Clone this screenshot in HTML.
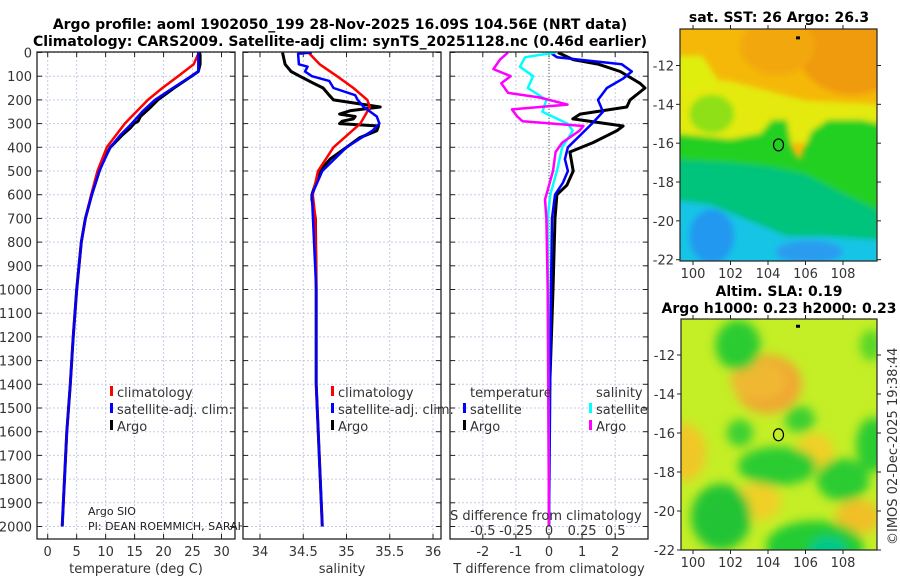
<!DOCTYPE html>
<html><head><meta charset="utf-8">
<style>
html,body{margin:0;padding:0;background:#fff;}
svg{display:block;font-family:"DejaVu Sans","Liberation Sans",sans-serif;}
.t{font-size:13px;fill:#333;}
.b{font-size:14px;font-weight:bold;fill:#000;}
</style></head>
<body>
<svg id="fig" width="900" height="580" viewBox="0 0 900 580" xmlns="http://www.w3.org/2000/svg">
<defs>
<filter id="bl1" x="-10%" y="-10%" width="120%" height="120%"><feGaussianBlur stdDeviation="3"/></filter>
<filter id="bl2" x="-10%" y="-10%" width="120%" height="120%"><feGaussianBlur stdDeviation="5"/></filter>
<clipPath id="cp1"><rect x="37" y="52" width="198" height="487"/></clipPath>
<clipPath id="cp2"><rect x="243" y="52" width="198" height="487"/></clipPath>
<clipPath id="cp3"><rect x="450" y="52" width="198" height="487"/></clipPath>
<clipPath id="cm1"><rect x="680" y="29" width="197" height="232"/></clipPath>
<clipPath id="cm2"><rect x="681" y="319" width="196" height="231"/></clipPath>
<clipPath id="cpText"><rect x="0" y="0" width="242" height="580"/></clipPath>
</defs>
<text class="b" x="340" y="29" text-anchor="middle">Argo profile: aoml 1902050_199 28-Nov-2025 16.09S 104.56E (NRT data)</text>
<text class="b" x="340" y="46" text-anchor="middle">Climatology: CARS2009. Satellite-adj clim: synTS_20251128.nc (0.46d earlier)</text>
<text class="b" x="779" y="22" text-anchor="middle">sat. SST: 26 Argo: 26.3</text>
<text class="b" x="779" y="296" text-anchor="middle">Altim. SLA: 0.19</text>
<text class="b" x="779" y="313" text-anchor="middle">Argo h1000: 0.23 h2000: 0.23</text>
<text class="t" transform="translate(897,545) rotate(-90)">©IMOS 02-Dec-2025 19:38:44</text>
<g id="charts"></g>
<g id="maps"></g>
</svg>
<script>
// ---------- data ----------
const depthTicks = [0,100,200,300,400,500,600,700,800,900,1000,1100,1200,1300,1400,1500,1600,1700,1800,1900,2000];
const tempTicks = [0,5,10,15,20,25,30];
const salTicks = [34,34.5,35,35.5,36];
const tdiffTicks = [-2,-1,0,1,2];
const sdiffTicks = [-0.5,-0.25,0,0.25,0.5];
const sdiffTickLabels = ["-0.5","-0.25","0","0.25","0.5"];

const argoTDepth = [0,10,50,80,100,150,200,230,250,270,290,300,320,350,400,450,500,600,700,800,1000,1200,1400,1600,1800,2000];
const argoT      = [26.2,26.3,26.3,26.0,24.8,21.8,19.0,17.8,16.9,16.0,15.6,14.9,14.2,12.8,10.8,9.7,8.9,7.6,6.5,5.8,5.0,4.4,3.9,3.3,2.9,2.5];
const climTDepth = [0,50,100,150,200,300,400,500,600,700,800,1000,1200,1400,1600,1800,2000];
const climT      = [26.1,25.2,22.5,19.8,17.3,13.3,10.2,8.6,7.5,6.5,5.8,5.0,4.4,3.9,3.3,2.9,2.5];
const satTDepth  = [0,80,100,150,200,250,300,350,400,500,600,700,800,1000,1200,1400,1600,1800,2000];
const satT       = [26.0,26.0,24.8,21.6,18.5,16.3,14.5,12.5,10.8,8.9,7.6,6.5,5.8,5.0,4.4,3.9,3.3,2.9,2.5];

const argoSDepth = [0,50,80,100,130,150,180,200,230,245,260,270,280,290,300,310,330,360,400,450,500,600,620,700,1000,1400,2000];
const argoS      = [34.26,34.29,34.36,34.46,34.62,34.73,34.80,34.85,35.39,35.05,34.92,35.1,35.08,34.95,34.92,35.37,35.35,35.15,35.0,34.81,34.69,34.6,34.6,34.64,34.65,34.65,34.72];
const climSDepth = [0,50,100,150,200,230,300,400,500,600,700,1000,1400,2000];
const climS      = [34.56,34.69,34.89,35.08,35.24,35.27,35.16,34.85,34.67,34.61,34.64,34.65,34.65,34.72];
const satSDepth  = [0,5,50,60,80,100,120,150,180,200,230,270,300,330,400,500,600,1000,1400,2000];
const satS       = [34.6,34.44,34.45,34.55,34.52,34.6,34.8,34.85,35.1,35.13,35.2,35.35,35.38,35.3,35.0,34.72,34.6,34.65,34.65,34.72];

const argoTdDepth = [0,30,50,80,130,150,200,230,260,280,310,330,380,420,500,560,600,700,1000,1500,2000];
const argoTd      = [0.27,0.73,1.5,2.15,2.75,2.9,2.45,2.35,0.94,0.72,2.24,2.05,1.33,0.63,0.73,0.54,0.24,0.18,0.12,0.0,0.0];
const satTdDepth  = [0,20,50,80,110,150,200,250,300,350,400,450,500,550,600,700,1000,2000];
const satTd       = [0.03,0.24,2.2,2.5,2.24,1.75,1.48,1.63,1.3,0.94,0.57,0.48,0.57,0.42,0.18,0.09,0.06,0.0];
const argoSdDepth = [0,30,70,100,130,170,190,220,240,270,290,310,330,380,420,500,600,620,700,1000,2000];
const argoSd      = [-0.31,-0.37,-0.42,-0.29,-0.36,-0.31,-0.07,0.14,-0.28,-0.24,-0.2,0.26,0.23,0.1,0.05,0.03,-0.02,-0.03,-0.02,-0.01,0.0];
const satSdDepth  = [0,20,60,100,150,200,250,300,330,400,500,600,700,2000];
const satSd       = [0.05,-0.18,-0.22,-0.12,-0.16,-0.02,-0.05,0.14,0.18,0.1,0.06,0.01,-0.01,0.0];

// ---------- helpers ----------
const NS = "http://www.w3.org/2000/svg";
const charts = document.getElementById('charts');
function mk(tag, attrs, parent){ const e=document.createElementNS(NS,tag); for(const k in attrs) e.setAttribute(k,attrs[k]); (parent||charts).appendChild(e); return e; }
const Y0=52, Y1=539;
function yD(d){ return 52.5 + d*0.237; }
function mkX(v0,p0,v1,p1){ return v=>p0+(v-v0)*(p1-p0)/(v1-v0); }
const xT = mkX(0,47.7,30,221.5);
const xS = mkX(34,260,36,433);
const xTd = mkX(0,549,2,615.2);
const xSd = mkX(0,549,0.5,615.2);

const panels = [
  {x:37, name:'temperature-panel', ticks:tempTicks, labels:tempTicks.map(String), fx:xT, xlabel:'temperature (deg C)'},
  {x:243, name:'salinity-panel', ticks:salTicks, labels:salTicks.map(String), fx:xS, xlabel:'salinity'},
  {x:450, name:'difference-panel', ticks:tdiffTicks, labels:tdiffTicks.map(String), fx:xTd, xlabel:'T difference from climatology'}
];
const W=198;
panels.forEach((p,pi)=>{
  const g = mk('g',{});
  
  
  p.ticks.forEach(t=>{
    const gl = mk('line',{x1:p.fx(t),x2:p.fx(t),y1:Y0,y2:Y1,stroke:'#c4cbe6','stroke-width':1,'stroke-dasharray':'2,2'},g);
    
    
  });
  depthTicks.forEach(d=>{
    const gl = mk('line',{x1:p.x,x2:p.x+W,y1:yD(d),y2:yD(d),stroke:'#c4cbe6','stroke-width':1,'stroke-dasharray':'2,2'},g);
    
    
    mk('line',{x1:p.x,x2:p.x+5,y1:yD(d),y2:yD(d),stroke:'#222'},g);
    mk('line',{x1:p.x+W-5,x2:p.x+W,y1:yD(d),y2:yD(d),stroke:'#222'},g);
  });
  p.ticks.forEach((t,i)=>{
    mk('line',{x1:p.fx(t),x2:p.fx(t),y1:Y1,y2:Y1-5,stroke:'#222'},g);
    mk('line',{x1:p.fx(t),x2:p.fx(t),y1:Y0,y2:Y0+5,stroke:'#222'},g);
    const tl = mk('text',{x:p.fx(t),y:556,'text-anchor':'middle',class:'t'},g);
    tl.textContent = p.labels[i];
    
    
  });
  const xl = mk('text',{x:p.x+W/2,y:573,'text-anchor':'middle',class:'t'},g);
  xl.textContent = p.xlabel;
  
  
});
depthTicks.forEach(d=>{
  const tl = mk('text',{x:32,y:yD(d)+5,'text-anchor':'end',class:'t'});
  tl.textContent = d;
  
  
});
const zl = mk('line',{x1:xTd(0),x2:xTd(0),y1:Y0,y2:Y1,stroke:'#555','stroke-dasharray':'1,2'});



function series(depths, vals, fx, color, w, clip, name){
  const pts = depths.map((d,i)=>fx(vals[i]).toFixed(1)+','+yD(d).toFixed(1)).join(' ');
  const pl = mk('polyline',{points:pts,fill:'none',stroke:color,'stroke-width':w,'stroke-linejoin':'round','clip-path':'url(#'+clip+')'});
  
  
}
series(argoTDepth,argoT,xT,'#000',3,'cp1','argo-temperature-line');
series(climTDepth,climT,xT,'#f00',2.5,'cp1','climatology-temperature-line');
series(satTDepth,satT,xT,'#00f',2.5,'cp1','satellite-temperature-line');
series(argoSDepth,argoS,xS,'#000',3,'cp2','argo-salinity-line');
series(climSDepth,climS,xS,'#f00',2.5,'cp2','climatology-salinity-line');
series(satSDepth,satS,xS,'#00f',2.5,'cp2','satellite-salinity-line');
series(argoTdDepth,argoTd,xTd,'#000',3,'cp3','argo-temp-diff-line');
series(satTdDepth,satTd,xTd,'#00f',2.5,'cp3','satellite-temp-diff-line');
series(satSdDepth,satSd,xSd,'#00ffff',2.5,'cp3','satellite-sal-diff-line');
series(argoSdDepth,argoSd,xSd,'#ff00ff',2.5,'cp3','argo-sal-diff-line');

panels.forEach(p=>{
  const r = mk('rect',{x:p.x,y:Y0,width:W,height:Y1-Y0,fill:'none',stroke:'#222','stroke-width':1.3});
  
  
});

function legend(x,y,color,label,name){
  const m = mk('rect',{x:x,y:y-11,width:3,height:10,fill:color});
  
  
  const t = mk('text',{x:x+7,y:y,class:'t',fill:'#000'});
  t.textContent = label;
  
  
}
legend(110,397,'#f00','climatology','legend-climatology');
legend(110,414,'#00f','satellite-adj. clim.','legend-satellite-adj');
legend(110,431,'#000','Argo','legend-argo');
legend(331,397,'#f00','climatology','legend-climatology-sal');
legend(331,414,'#00f','satellite-adj. clim.','legend-satellite-adj-sal');
legend(331,431,'#000','Argo','legend-argo-sal');
const lt = mk('text',{x:470,y:397,class:'t'}); lt.textContent='temperature';


const ls = mk('text',{x:596,y:397,class:'t'}); ls.textContent='salinity';


legend(463,414,'#00f','satellite','legend-temp-satellite');
legend(463,431,'#000','Argo','legend-temp-argo');
legend(589,414,'#00ffff','satellite','legend-sal-satellite');
legend(589,431,'#ff00ff','Argo','legend-sal-argo');

const sdt = mk('text',{x:450,y:520,class:'t'}); sdt.textContent='S difference from climatology';


sdiffTicks.forEach((v,i)=>{
  const t = mk('text',{x:xSd(v),y:535,'text-anchor':'middle',class:'t'});
  t.textContent = sdiffTickLabels[i];
  
  
});
const pi1 = mk('text',{x:88,y:515,style:'font-size:11px;fill:#222'}); pi1.textContent='Argo SIO';


const pi2 = mk('text',{x:88,y:530,style:'font-size:11px;fill:#222','clip-path':'url(#cpText)'}); pi2.textContent='PI: DEAN ROEMMICH, SARAH PURKEY, JOHN GILSON';



// ---------- maps ----------
const maps = document.getElementById('maps');
function lonX(lon){ return 693 + (lon-100)*18.75; }
function mk2(tag, attrs, parent){ const e=document.createElementNS(NS,tag); for(const k in attrs) e.setAttribute(k,attrs[k]); parent.appendChild(e); return e; }
function poly(g, pts, fy, fill){ mk2('polygon',{points:pts.map(p=>lonX(p[0]).toFixed(1)+','+fy(p[1]).toFixed(1)).join(' '),fill:fill},g); }
function ell(g, lon, lat, rx, ry, fy, fill){ mk2('ellipse',{cx:lonX(lon),cy:fy(lat),rx:rx*18.75,ry:ry*19.4,fill:fill},g); }

const lat1 = lat=>65.5 + (-12-lat)*19.42;
const m1 = mk2('g',{'clip-path':'url(#cm1)'},maps);


mk2('rect',{x:680,y:29,width:197,height:232,fill:'#f5b808'},m1);
const m1b = mk2('g',{filter:'url(#bl1)'},m1);
ell(m1b,108.5,-11,3,2.5,lat1,'#f09a08');
ell(m1b,104.5,-11,2,1.5,lat1,'#f2a808');
poly(m1b,[[98,-12.5],[102,-12.8],[106,-13.8],[110,-14],[110,-16],[98,-16]],lat1,'#e4ea10');
poly(m1b,[[98,-11.5],[100.5,-11.5],[101.5,-13],[98,-13.5]],lat1,'#e0ee10');
ell(m1b,101,-14.5,1.2,1.0,lat1,'#8fe018');
poly(m1b,[[98,-15.4],[102,-15.8],[103.6,-15.5],[104.2,-14.8],[105,-14.8],[105.3,-16.4],[105.7,-16.9],[106.3,-15.4],[107.2,-14.8],[109,-14.8],[110,-15],[110,-22],[98,-22]],lat1,'#24d024');
poly(m1b,[[98,-16.8],[102,-17],[104,-17.2],[106,-17.6],[108,-18.6],[110,-19.5],[110,-23],[98,-23]],lat1,'#00c37c');
poly(m1b,[[98,-18.8],[101,-19.2],[103,-20],[105,-20.8],[107,-20.8],[110,-21],[110,-23],[98,-23]],lat1,'#18c4e6');
ell(m1b,101,-20.8,1.2,1.4,lat1,'#2098f0');
ell(m1b,106.2,-21.6,1.8,0.6,lat1,'#2c9cf0');
mk2('ellipse',{cx:lonX(104.56),cy:lat1(-16.09),rx:5,ry:6,fill:'none',stroke:'#000','stroke-width':1.2},m1);
mk2('rect',{x:lonX(105.6)-2,y:lat1(-10.5),width:4,height:3,fill:'#000'},m1);

const lat2 = lat=>355 + (-12-lat)*19.5;
const m2 = mk2('g',{'clip-path':'url(#cm2)'},maps);


mk2('rect',{x:681,y:319,width:196,height:231,fill:'#c4ee26'},m2);
const m2b = mk2('g',{filter:'url(#bl2)'},m2);
ell(m2b,104,-13.5,1.8,1.5,lat2,'#f0a830');
ell(m2b,103.5,-13.3,1.5,1.0,lat2,'#f0b830');
ell(m2b,99.5,-17,1.2,1.5,lat2,'#f0c828');
ell(m2b,106.5,-17,1.0,1.0,lat2,'#f0d028');
ell(m2b,108.8,-20.3,1.2,0.9,lat2,'#f0c028');
ell(m2b,103.5,-19.5,1.2,1.0,lat2,'#f0d028');
ell(m2b,102.4,-11.5,1.2,1.3,lat2,'#2ccc30');
ell(m2b,109.5,-11.5,0.6,0.8,lat2,'#58d828');
ell(m2b,102.5,-16,0.7,0.7,lat2,'#3cd030');
ell(m2b,105.7,-15.3,0.8,0.7,lat2,'#3cd030');
ell(m2b,104.5,-17.7,2.1,1.0,lat2,'#2ccc30');
ell(m2b,108,-18.4,1.4,1.1,lat2,'#2ccc30');
ell(m2b,109.6,-16.6,0.9,1.4,lat2,'#2ccc30');
ell(m2b,101.5,-20.3,1.6,1.7,lat2,'#22c434');
ell(m2b,106.5,-21.8,2.6,1.3,lat2,'#22cc30');
ell(m2b,107.2,-22,1.0,0.7,lat2,'#00c88a');
mk2('ellipse',{cx:lonX(104.56),cy:lat2(-16.09),rx:5,ry:6,fill:'none',stroke:'#000','stroke-width':1.2},m2);
mk2('rect',{x:lonX(105.6)-2,y:lat2(-10.5)-1,width:4,height:3,fill:'#000'},m2);

const latTicks = [-12,-14,-16,-18,-20,-22];
const lonTicks = [100,102,104,106,108];
[[lat1,29,261,680,877],[lat2,319,550,681,877]].forEach(([fy,yt,yb,xl,xr],mi)=>{
  const g = mk2('g',{},maps);
  
  
  mk2('rect',{x:xl,y:yt,width:xr-xl,height:yb-yt,fill:'none',stroke:'#222','stroke-width':1.2},g);
  latTicks.forEach(l=>{
    mk2('line',{x1:xl-4,x2:xl,y1:fy(l),y2:fy(l),stroke:'#222'},g);
    mk2('line',{x1:xr,x2:xr+4,y1:fy(l),y2:fy(l),stroke:'#222'},g);
    const t = mk2('text',{x:xl-6,y:fy(l)+5,'text-anchor':'end',class:'t'},g);
    t.textContent = l;
    
    
  });
  lonTicks.forEach(l=>{
    mk2('line',{x1:lonX(l),x2:lonX(l),y1:yb,y2:yb+4,stroke:'#222'},g);
    mk2('line',{x1:lonX(l),x2:lonX(l),y1:yt-4,y2:yt,stroke:'#222'},g);
    const t = mk2('text',{x:lonX(l),y:yb+17,'text-anchor':'middle',class:'t'},g);
    t.textContent = l;
    
    
  });
});
</script>
</body></html>
